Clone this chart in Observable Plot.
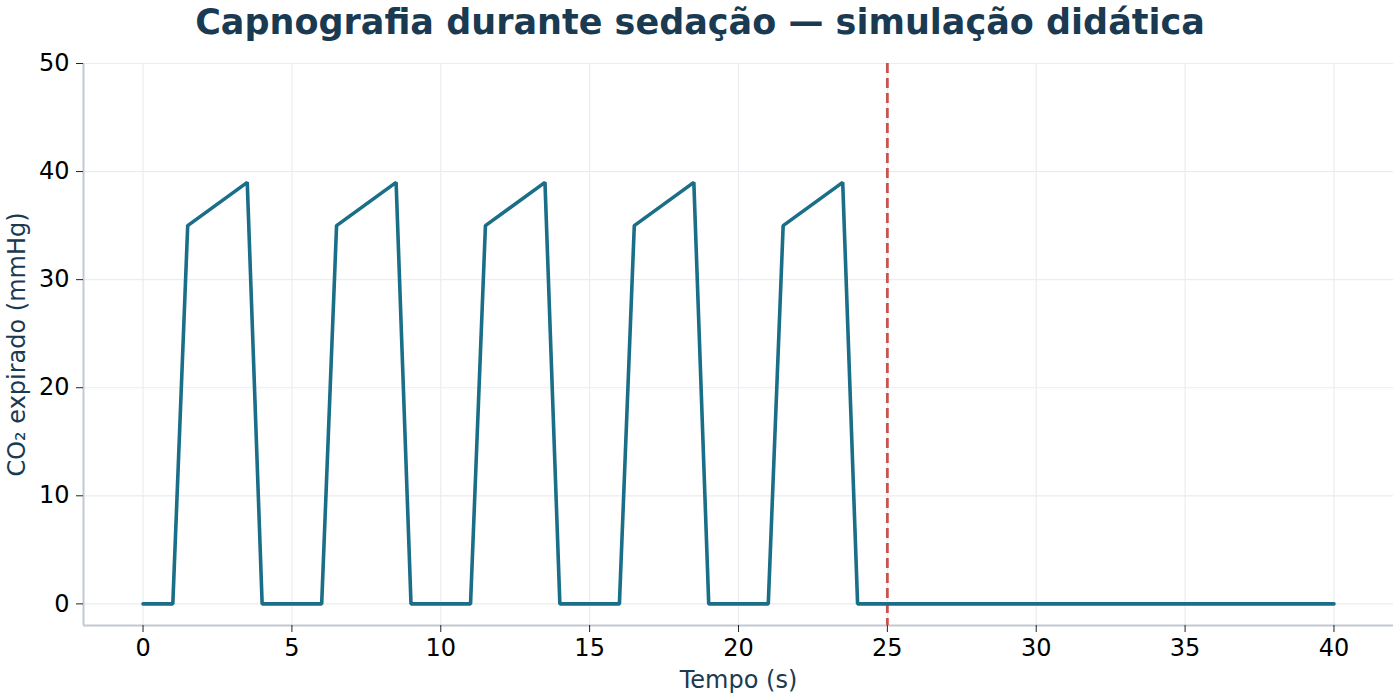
<!DOCTYPE html>
<html>
<head>
<meta charset="utf-8">
<script src="https://cdn.jsdelivr.net/npm/d3@7"></script>
<script src="https://cdn.jsdelivr.net/npm/@observablehq/plot@0.6"></script>
<style>
  html, body { margin: 0; padding: 0; background: #fff; }
  #title { height: 46px; line-height: 44px; text-align: center; font-family: "DejaVu Sans", sans-serif; font-weight: bold; font-size: 35px; color: #1a3a52; }
  svg { display: block; }
</style>
</head>
<body>
<div id="title">Capnografia durante sedação — simulação didática</div>
<div id="chart"></div>
<script>
const time = [0, 1, 1.5, 3.5, 4, 6, 6.5, 8.5, 9, 11, 11.5, 13.5, 14, 16, 16.5, 18.5, 19, 21, 21.5, 23.5, 24, 40];
const co2  = [0, 0, 35, 39, 0, 0, 35, 39, 0, 0, 35, 39, 0, 0, 35, 39, 0, 0, 35, 39, 0, 0];
const apneaStart = [25];
const xTicks = [0, 5, 10, 15, 20, 25, 30, 35, 40];
const yTicks = [0, 10, 20, 30, 40, 50];
const xDomain = [-2, 42];
const yDomain = [-2, 50];

const data = time.map((t, i) => ({t, v: co2[i]}));

const chart = Plot.plot({
  width: 1400,
  height: 654,
  marginTop: 17,
  marginBottom: 75,
  marginLeft: 83,
  marginRight: 7,
  style: { fontFamily: "DejaVu Sans, sans-serif", fontSize: "24px", color: "#000", background: "#fff" },
  x: { domain: xDomain },
  y: { domain: yDomain },
  marks: [
    Plot.gridX(xTicks, { stroke: "#e9edf1", strokeOpacity: 1, strokeWidth: 1.2 }),
    Plot.gridY(yTicks, { stroke: "#e9edf1", strokeOpacity: 1, strokeWidth: 1.2 }),
    Plot.ruleX([xDomain[0]], { stroke: "#c2cad1", strokeWidth: 2 }),
    Plot.ruleY([yDomain[0]], { stroke: "#c2cad1", strokeWidth: 2 }),
    Plot.axisX({ ticks: xTicks, tickSize: 7, tickPadding: 6, stroke: "#222", fill: "#000", fontSize: 24,
      label: "Tempo (s)", labelAnchor: "center", labelArrow: "none", labelOffset: 62 }),
    Plot.axisY({ ticks: yTicks, tickSize: 7, tickPadding: 7, stroke: "#222", fill: "#000", fontSize: 24,
      label: "CO₂ expirado (mmHg)", labelAnchor: "center", labelArrow: "none", labelOffset: 76 }),
    Plot.ruleX(apneaStart, { stroke: "#c9534f", strokeWidth: 2.8, strokeDasharray: "10,5" }),
    Plot.line(data, { x: "t", y: "v", stroke: "#1a6e87", strokeWidth: 3.6, strokeLinejoin: "miter" })
  ]
});
document.getElementById("chart").appendChild(chart);
chart.querySelectorAll("[aria-label='x-axis label'] text, [aria-label='y-axis label'] text").forEach(n => n.setAttribute("fill", "#1a3a52"));
chart.querySelectorAll("[aria-label='x-axis label'], [aria-label='y-axis label']").forEach(n => n.setAttribute("fill", "#1a3a52"));
</script>
</body>
</html>
